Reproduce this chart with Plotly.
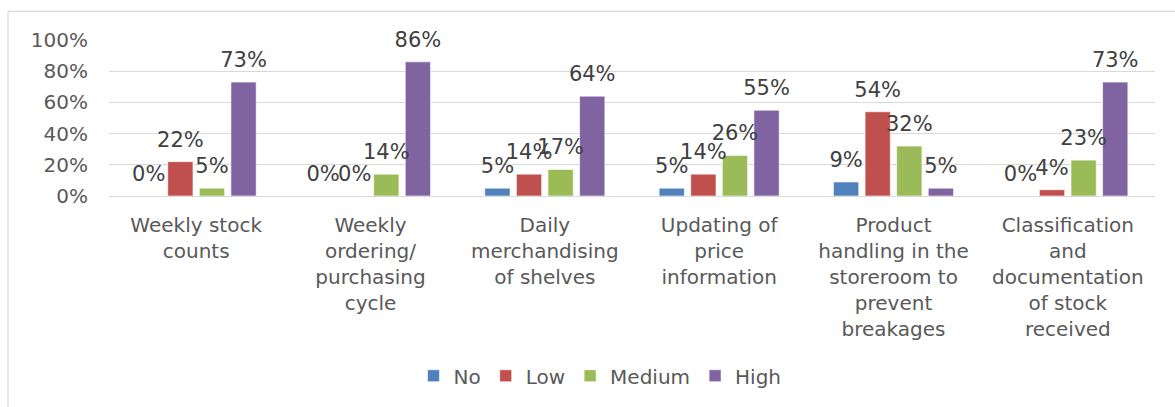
import plotly.graph_objects as go

# Survey categories (line breaks as shown under each group)
categories = [
    "Weekly stock<br>counts",
    "Weekly<br>ordering/<br>purchasing<br>cycle",
    "Daily<br>merchandising<br>of shelves",
    "Updating of<br>price<br>information",
    "Product<br>handling in the<br>storeroom to<br>prevent<br>breakages",
    "Classification<br>and<br>documentation<br>of stock<br>received",
]

# Share of respondents per level (%)
no_vals = [0, 0, 5, 5, 9, 0]
low_vals = [22, 0, 14, 14, 54, 4]
medium_vals = [5, 14, 17, 26, 32, 23]
high_vals = [73, 86, 64, 55, 5, 73]

y_ticks = [0, 20, 40, 60, 80, 100]
y_tick_labels = [f"{v}%" for v in y_ticks]

series = [
    ("No", no_vals, "#4f81bd"),
    ("Low", low_vals, "#c0504d"),
    ("Medium", medium_vals, "#9bbb59"),
    ("High", high_vals, "#8064a2"),
]

FONT = "DejaVu Sans"
TEXT_GREY = "#595959"
FS = 20
GAP = 0.275

fig = go.Figure()
for name, vals, color in series:
    fig.add_trace(go.Bar(
        name=name,
        x=categories,
        y=vals,
        offsetgroup=name,
        marker=dict(color=color, line=dict(color="rgba(255,255,255,0.6)", width=1)),
        hoverinfo="x+y+name",
    ))

# Value labels: grouped text points sitting above each bar
for name, vals, color in series:
    fig.add_trace(go.Scatter(
        name=name,
        x=categories,
        y=vals,
        offsetgroup=name,
        mode="markers+text",
        marker=dict(size=14, color="rgba(0,0,0,0)"),
        text=[f"{v}%" for v in vals],
        textposition="top center",
        textfont=dict(family=FONT, size=21, color="#404040"),
        cliponaxis=False,
        showlegend=False,
        hoverinfo="skip",
    ))

W, H = 1175, 407
L, R, T, B = 109, 20, 39.5, 209.3
plot_w = W - L - R
plot_h = H - T - B

# Chart-area frame (top and left edges)
bx = (8 - L) / plot_w
by = 1 + (T - 10.5) / plot_h
fig.add_shape(type="line", xref="paper", yref="paper",
              x0=bx, x1=1 + R / plot_w + 0.01, y0=by, y1=by,
              line=dict(color="#d9d9d9", width=1.2))
fig.add_shape(type="line", xref="paper", yref="paper",
              x0=bx, x1=bx, y0=by, y1=-(B + 5) / plot_h,
              line=dict(color="#d9d9d9", width=1.2))

fig.update_layout(
    width=W, height=H,
    margin=dict(l=L, r=R, t=T, b=B, pad=0),
    paper_bgcolor="white",
    plot_bgcolor="white",
    barmode="group",
    bargap=GAP,
    bargroupgap=0.2,
    scattermode="group",
    scattergap=GAP,
    font=dict(family=FONT, size=FS, color=TEXT_GREY),
    legend=dict(
        orientation="h",
        xref="paper", yref="paper",
        x=(600 - L) / plot_w, xanchor="center",
        y=-(380 - (H - B)) / plot_h, yanchor="middle",
        font=dict(family=FONT, size=FS, color=TEXT_GREY),
        itemwidth=30,
        traceorder="normal",
    ),
    showlegend=True,
)

fig.update_yaxes(
    range=[0, 100],
    tickmode="array",
    tickvals=y_ticks,
    ticktext=y_tick_labels,
    showgrid=True,
    gridcolor="#d9d9d9",
    gridwidth=1.2,
    zeroline=False,
    showline=False,
    ticks="",
    ticklabelstandoff=20,
    tickfont=dict(family=FONT, size=FS, color=TEXT_GREY),
)
fig.update_xaxes(
    showline=True,
    linecolor="#d9d9d9",
    linewidth=1.2,
    ticks="",
    ticklabelstandoff=11,
    tickfont=dict(family=FONT, size=FS, color=TEXT_GREY),
)

fig.write_html("out.html")
